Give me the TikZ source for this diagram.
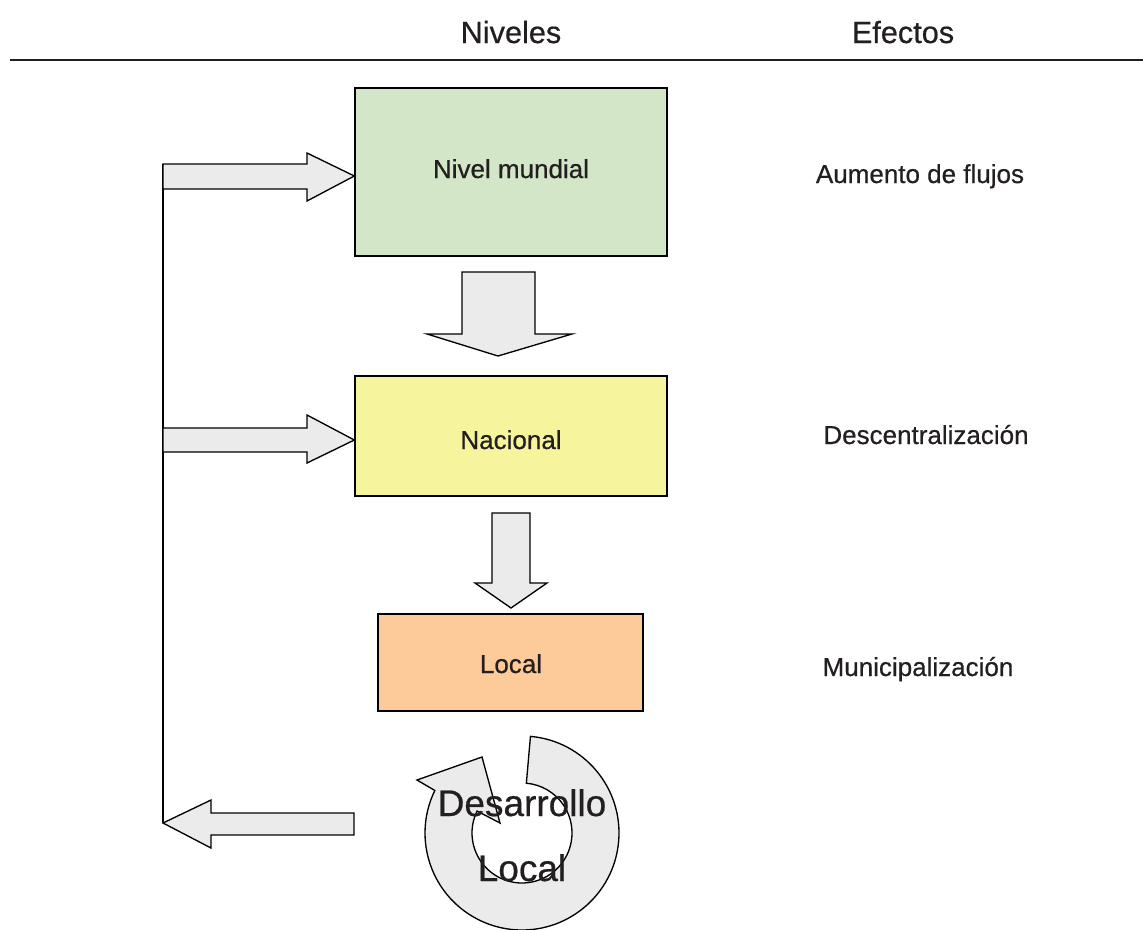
\documentclass[tikz,border=0pt]{standalone}
\usepackage{fontspec}
\setmainfont[FakeBold=0.6]{Liberation Sans}
\usetikzlibrary{calc}
\definecolor{txt}{HTML}{231F20}
\definecolor{greenbox}{HTML}{D3E6C8}
\definecolor{yellowbox}{HTML}{F6F59D}
\definecolor{orangebox}{HTML}{FDCA99}
\definecolor{arrowfill}{HTML}{EBEBEB}
\begin{document}
\begin{tikzpicture}[x=0.75pt,y=-0.75pt,
  box/.style={draw=black,line width=1pt,inner sep=0pt},
  blockarrow/.style={draw=black,line width=1pt,fill=arrowfill,line join=miter},
  lbl/.style={font=\fontsize{19.5}{23}\selectfont,text=txt,inner sep=0pt,anchor=base},
  head/.style={font=\fontsize{23}{27}\selectfont,text=txt,inner sep=0pt,anchor=base},
  big/.style={font=\fontsize{27.75}{32}\selectfont,text=txt,inner sep=0pt,anchor=base}]
\useasboundingbox (0,0) rectangle (1143,929);
% header
\draw[line width=1.5pt,draw=txt] (10,60) -- (1143,60);
\node[head] (hniv) at (511,43) {Niveles};
\node[head] (hefe) at (903,43) {Efectos};
% boxes
\node[box,fill=greenbox,minimum width=234pt,minimum height=126pt] (mundial) at (511,172) {};
\node[box,fill=yellowbox,minimum width=234pt,minimum height=90pt] (nacional) at (511,436) {};
\node[box,fill=orangebox,minimum width=198.75pt,minimum height=72.75pt] (local) at (510.5,662.5) {};
\node[lbl] (tmundial) at (511,178) {Nivel mundial};
\node[lbl] (tnacional) at (511,449) {Nacional};
\node[lbl] (tlocal) at (511,673) {Local};
% effects
\node[lbl] (e1) at (920,183) {Aumento de flujos};
\node[lbl] (e2) at (926,444) {Descentralización};
\node[lbl] (e3) at (918,676) {Municipalización};
% feedback line
\coordinate (ltop) at (163,164);
\coordinate (lbot) at (163,823);
\draw[line width=1pt] (ltop) -- (lbot);
% block arrows
\draw[blockarrow] (163,164) -- (307,164) -- (307,153) -- (mundial.west |- 0,176) -- (307,201) -- (307,189) -- (163,189) -- cycle;
\draw[blockarrow] (163,428) -- (307,428) -- (307,415) -- (nacional.west |- 0,440) -- (307,463) -- (307,452) -- (163,452) -- cycle;
\draw[blockarrow] (354,813) -- (211,813) -- (211,800) -- (lbot) -- (211,848) -- (211,835) -- (354,835) -- cycle;
\draw[blockarrow] (462,272) -- (535,272) -- (535,334) -- (572,334) -- (498,356) -- (427,334) -- (462,334) -- cycle;
\draw[blockarrow] (492,513) -- (530,513) -- (530,583) -- (547,583) -- (511,608) -- (475,583) -- (492,583) -- cycle;
% circular arrow
\coordinate (cc) at (522,833);
\draw[blockarrow] ($(cc)+(-85:97)$) arc[start angle=-85,end angle=206,radius=97]
  -- (417,780) -- (482,757) -- (500,823) -- ($(cc)+(206:50)$)
  arc[start angle=206,end angle=-85,radius=50] -- cycle;
\node[big] (des) at (522,816) {Desarrollo};
\node[big] (loc) at (522,881) {Local};
\end{tikzpicture}
\end{document}
